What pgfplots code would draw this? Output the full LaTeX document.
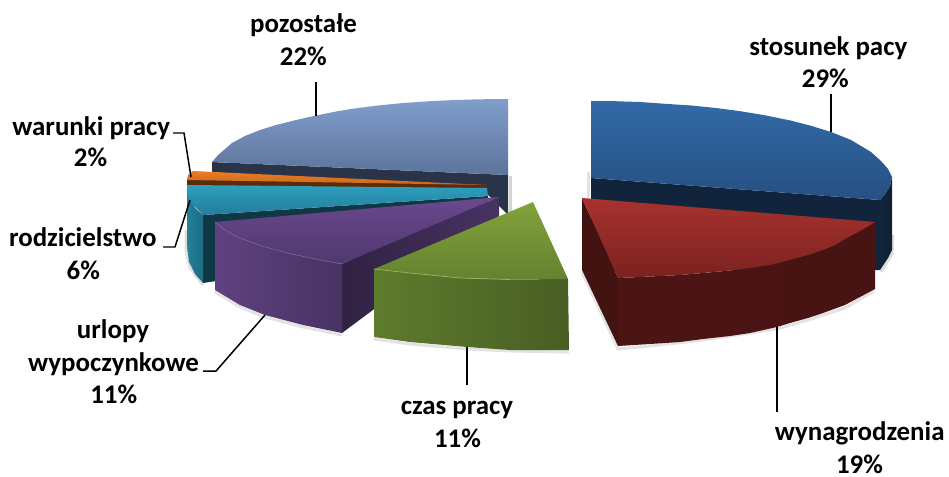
\documentclass[border=0pt]{standalone}
\usepackage{pgfplots}
\pgfplotsset{compat=1.18}
\usepackage{fontspec}
\setmainfont{Carlito}
\definecolor{bA}{RGB}{50,106,168}\definecolor{bB}{RGB}{38,80,130}
\definecolor{rA}{RGB}{168,50,46}\definecolor{rB}{RGB}{122,34,32}
\definecolor{gA}{RGB}{130,162,58}\definecolor{gB}{RGB}{100,130,48}
\definecolor{pA}{RGB}{106,72,142}\definecolor{pB}{RGB}{80,56,110}
\definecolor{tA}{RGB}{45,160,190}\definecolor{tB}{RGB}{35,125,155}
\definecolor{oA}{RGB}{235,125,35}\definecolor{oB}{RGB}{205,102,30}
\definecolor{sA}{RGB}{128,158,204}\definecolor{sB}{RGB}{92,116,155}
\definecolor{sSide}{RGB}{42,52,72}\definecolor{tSide}{RGB}{15,55,68}\definecolor{bSide}{RGB}{18,36,60}
\definecolor{oSide}{RGB}{90,45,10}
\tikzset{lab/.style={font=\fontsize{27}{30}\selectfont\bfseries,anchor=base,text=black,inner sep=0pt}}
\begin{document}
\begin{tikzpicture}
\begin{axis}[scale only axis,width=949bp,height=477bp,xmin=0,xmax=949,ymin=0,ymax=477,y dir=reverse,hide axis,clip=false,no markers,
  every axis plot/.append style={draw=none,line join=round}]
\path (axis cs:0,0) rectangle (axis cs:949,477);
% soft shadows
\addplot[draw=gray,line width=3pt,opacity=.22] coordinates {(588,172)(588,200)};
\addplot[draw=gray,line width=3pt,opacity=.25] coordinates {(893,235)(892,254)(881,272)};
\addplot[draw=gray,line width=3pt,opacity=.22] coordinates {(582,272)(618,349)(650,346)(703,340)(777,329)(808,320)(845,308)(874,291)};
\addplot[draw=gray,line width=3pt,opacity=.22] coordinates {(374,339)(410,344)(467,349)(510,351)(569,352)};
\addplot[draw=gray,line width=3pt,opacity=.22] coordinates {(215,292)(240,307)(265,317)(303,327)(342,335)};
\addplot[draw=gray,line width=3pt,opacity=.25] coordinates {(186,230)(186,250)(190,268)(203,285)};
\addplot[draw=gray,line width=3pt,opacity=.35] coordinates {(510,176)(510,215)};
% pozostale
\addplot[fill=sSide] coordinates {(212,162)(508,175)(508,215)(488,195)(212,172)(212,162)};
\addplot[top color=sA,bottom color=sB] coordinates {(508,99)(480,99.3)(455,100)(430,101.2)(403,103)(378,105.5)(353,108.7)(335,111.7)(316,115.5)(296,120)(276,125)(260,130)(245,136)(232,143)(224,150)(218,155)(212,162)(508,175)(508,99)};
% warunki
\addplot[fill=oSide] coordinates {(187,179)(487,185)(487,189)(187,186)(187,179)};
\addplot[top color=oA,bottom color=oB] coordinates {(193,171)(487,185)(187,180)(188,175)(193,171)};
% rodzicielstwo
\addplot[fill=tSide] coordinates {(203,215)(488,196)(488,240)(203,283)(203,215)};
\addplot[left color=tA!80!black,right color=tB!85!black] coordinates {(187,188)(187,245)(189,262)(195,274)(203,283)(203,215)(195,208)(187,188)};
\addplot[top color=tA,bottom color=tB] coordinates {(487,188)(187,185)(187,195)(190,201)(196,208)(203,215)(488,196)(487,188)};
% urlopy
\addplot[left color=pB!60!black,right color=pB!90!black] coordinates {(342,264)(499,197)(499,216)(342,333)(342,264)};
\addplot[left color=pA!90!black,right color=pB!90!black] coordinates {(215,222)(237,237)(262,246)(287,253)(342,264)(342,333)(303,325)(265,315)(240,305)(215,290)(215,222)};
\addplot[top color=pA,bottom color=pB] coordinates {(499,197)(215,222)(225,230)(237,237)(262,246)(287,253)(315,259)(342,264)(499,197)};
\addplot[draw=pA!80!white,line width=.5pt] coordinates {(215,222)(225,230)(237,237)(262,246)(287,253)(315,259)(342,264)};
% stosunek
\addplot[fill=bSide] coordinates {(591,178)(880,200)(880,270)(591,270)(591,178)};
\addplot[left color=bB!45!black,right color=bB!40!black] coordinates {(892,177)(892,250)(888,258)(880,270)(880,200)(885,194)(890,186)(892,177)};
\addplot[top color=bA,bottom color=bB] coordinates {(591,101)(615,101.2)(640,102)(665,103.8)(691,105.5)(716,108)(741,111.3)(766,115.5)(791,120.6)(811,125.8)(831,132)(851,140)(861,146)(871,152)(881,161)(888,169)(892,177)(890,186)(885,194)(880,200)(591,178)(591,101)};
% wynagrodzenia
\addplot[fill=rB!55!black] coordinates {(582,198)(618,278)(618,346)(582,270)(582,198)};
\addplot[left color=rB!62!black,right color=rB!58!black] coordinates {(618,278)(650,276.5)(680,275)(703,273)(730,270.5)(750,268)(770,265)(790,260)(808,255)(823,250)(835,245)(845,239)(860,231)(867,227)(875,222)(875,289)(860,297)(845,305)(823,313)(808,318)(790,323)(777,327)(750,333)(730,336)(703,339)(680,342)(650,344)(618,346)(618,278)};
\addplot[top color=rA,bottom color=rB] coordinates {(582,198)(875,222)(867,227)(860,231)(845,239)(835,245)(823,250)(808,255)(790,260)(770,265)(750,268)(730,270.5)(703,273)(680,275)(650,276.5)(618,278)(582,198)};
% czas pracy
\addplot[left color=gB!95!black,right color=gB!72!black] coordinates {(374,269)(410,273)(460,278)(510,279.5)(568,279)(569,350)(510,350)(467,347)(410,342)(374,337)(374,269)};
\addplot[top color=gA,bottom color=gB] coordinates {(533,202)(568,279)(510,279.5)(460,278)(410,273)(374,269)(533,202)};
\addplot[draw=gA!80!white,line width=.7pt] coordinates {(374,269)(410,273)(460,278)(510,279.5)};
% leaders
\addplot[draw=black,line width=1.5pt] coordinates {(316,82)(316,116)};
\addplot[draw=black,line width=1.5pt] coordinates {(831,94)(831,132)};
\addplot[draw=black,line width=1.5pt] coordinates {(777,327)(777,412)};
\addplot[draw=black,line width=1.5pt] coordinates {(467,347)(467,385)};
\addplot[draw=black,line width=1.5pt] coordinates {(203,371)(216,371)(265,315)};
\addplot[draw=black,line width=1.5pt] coordinates {(163,247)(175,247)(190,200)};
\addplot[draw=black,line width=1.5pt] coordinates {(173,133)(184,133)(191,177)};
% labels
\node[lab] at (axis cs:303.5,33) {pozostałe};
\node[lab] at (axis cs:303.3,65.5) {22\%};
\node[lab] at (axis cs:828.3,56) {stosunek pacy};
\node[lab] at (axis cs:825.3,88) {29\%};
\node[lab] at (axis cs:859.7,440.7) {wynagrodzenia};
\node[lab] at (axis cs:859.5,473) {19\%};
\node[lab] at (axis cs:457,414.8) {czas pracy};
\node[lab] at (axis cs:457.5,447) {11\%};
\node[lab] at (axis cs:113,338.5) {urlopy};
\node[lab] at (axis cs:113.5,371.5) {wypoczynkowe};
\node[lab] at (axis cs:113.7,403.5) {11\%};
\node[lab] at (axis cs:82.8,246) {rodzicielstwo};
\node[lab] at (axis cs:83.3,279.5) {6\%};
\node[lab] at (axis cs:91.3,135.5) {warunki pracy};
\node[lab] at (axis cs:90.5,166.7) {2\%};
\end{axis}
\end{tikzpicture}
\end{document}
